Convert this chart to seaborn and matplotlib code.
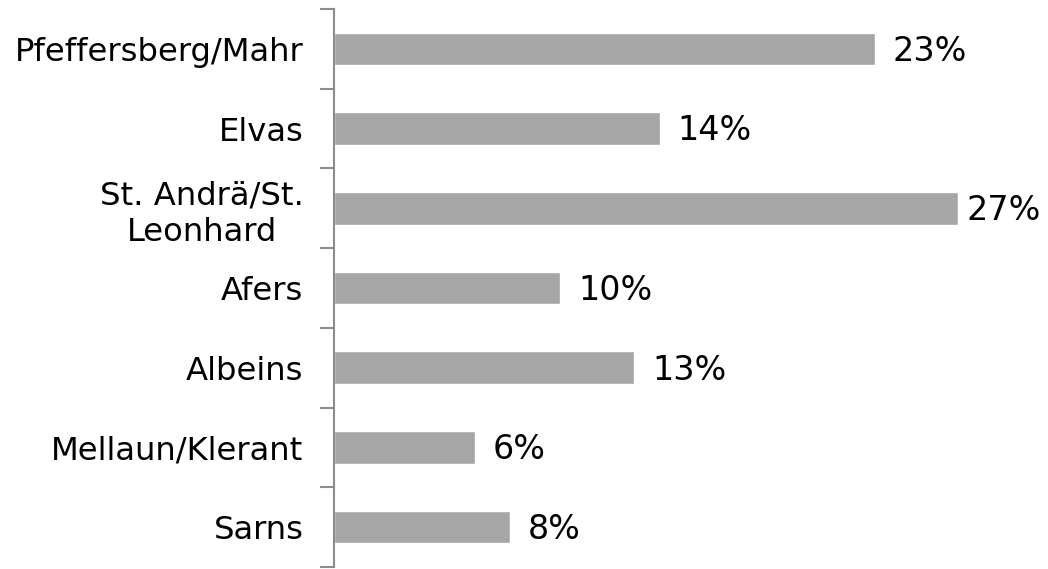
import matplotlib
matplotlib.use("Agg")
import matplotlib.pyplot as plt
import seaborn as sns
import pandas as pd
import numpy as np

# data
orte = ["Pfeffersberg/Mahr", "Elvas", "St. Andrä/St.\nLeonhard", "Afers",
        "Albeins", "Mellaun/Klerant", "Sarns"]
anteil = [23.4, 14.1, 27.0, 9.8, 13.0, 6.1, 7.6]
beschriftung = ["23%", "14%", "27%", "10%", "13%", "6%", "8%"]

df = pd.DataFrame({"Ort": orte, "Anteil": anteil})

sns.set_style("white")
plt.rcParams["font.family"] = ["DejaVu Sans"]

fig = plt.figure(figsize=(10.48, 5.69), dpi=100)
ax = fig.add_axes([0.3187, 0.0035, 0.6813, 0.9807])

sns.barplot(data=df, x="Anteil", y="Ort", orient="h", color="#A6A6A6",
            saturation=1, width=0.41, ax=ax)

# labels sit just outside the bar end; the longest one is squeezed to fit
for i, (v, t) in enumerate(zip(anteil, beschriftung)):
    gap = 6 if v == max(anteil) else 13
    ax.annotate(t, (v, i + 0.03), xytext=(gap, 0), textcoords="offset points",
                va="center", ha="left", fontsize=24, color="black")

ax.set_xlim(0, 30.9)
ax.set_ylim(len(orte) - 0.5, -0.5)
ax.set_xlabel("")
ax.set_ylabel("")
ax.set_xticks([])

for s in ["top", "right", "bottom"]:
    ax.spines[s].set_visible(False)
ax.spines["left"].set_color("#8C8C8C")
ax.spines["left"].set_linewidth(1.5)

ax.set_yticks(np.arange(len(orte)))
ax.set_yticklabels(orte, fontsize=23.2, color="black", multialignment="center")
ax.tick_params(axis="y", which="major", left=True, length=0, pad=22)
ax.set_yticks(np.arange(len(orte) + 1) - 0.5, minor=True)
ax.tick_params(axis="y", which="minor", left=True, length=10, width=1.5,
               color="#8C8C8C")

fig.savefig("out.png", dpi=100)
